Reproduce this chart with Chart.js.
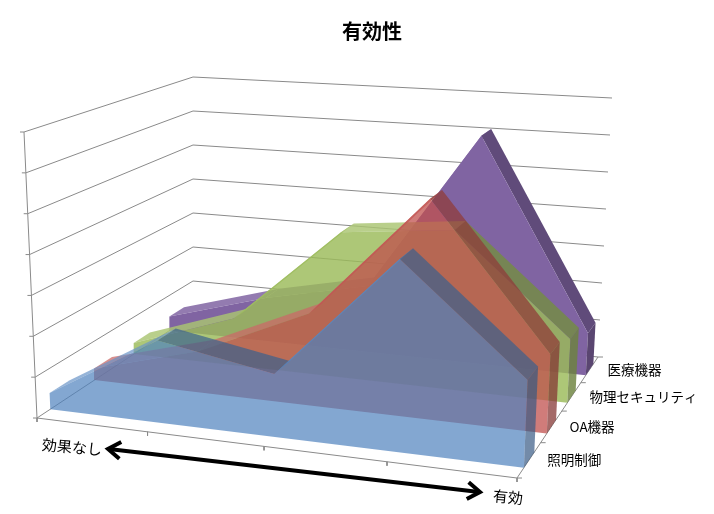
<!DOCTYPE html>
<html>
<head>
<meta charset="utf-8">
<script src="https://cdn.jsdelivr.net/npm/chart.js@4.4.1/dist/chart.umd.min.js"></script>
<style>
html, body { margin: 0; padding: 0; background: #fff; }
#wrap { width: 714px; height: 514px; position: relative; }
</style>
</head>
<body>
<div id="wrap"><canvas id="chart"></canvas></div>
<script>
// categories run from "no effect" to "effective"
const categories = ['1', '2', '3', '4', '5'];
const axisEnds = ['効果なし', '有効'];
const seriesNames = ['照明制御', 'OA機器', '物理セキュリティ', '医療機器'];

const lighting = [0.4, 2.0, 1.5, 4.5, 2.0];
const oaDevices = [0.3, 1.05, 2.3, 5.4, 1.9];
const security = [0.3, 1.25, 3.8, 4.1, 1.6];
const medical = [0.4, 1.2, 1.8, 6.1, 1.1];

const valueTicks = [0, 1, 2, 3, 4, 5, 6, 7];

const seriesValues = [lighting, oaDevices, security, medical];
const seriesColors = ['79,129,189', '192,80,77', '155,187,89', '128,100,162'];
const seriesAlpha = [0.7, 0.75, 0.82, 1];

// 3d box corners on screen (floor and roof)
const floor = { fl: [37, 418], fr: [517, 478], bl: [193, 315], br: [598, 357] };
const roof = { fl: [24, 132], fr: [530, 167], bl: [193, 77], br: [612, 98] };
const vMax = valueTicks[valueTicks.length - 1];
const slabHalf = 0.055;

function ease(t, k) {
    return t * k / (1 + (k - 1) * t);
}

function bilerp(c, u, w) {
    const fx = c.fl[0] + (c.fr[0] - c.fl[0]) * u;
    const fy = c.fl[1] + (c.fr[1] - c.fl[1]) * u;
    const bx = c.bl[0] + (c.br[0] - c.bl[0]) * u;
    const by = c.bl[1] + (c.br[1] - c.bl[1]) * u;
    return [fx + (bx - fx) * w, fy + (by - fy) * w];
}

function project(u, w, v) {
    const uu = ease(u, 0.8975);
    const ww = ease(w, 1.237);
    const b = bilerp(floor, uu, ww);
    const t = bilerp(roof, uu, ww);
    const s = v / vMax;
    return { x: b[0] + (t[0] - b[0]) * s, y: b[1] + (t[1] - b[1]) * s };
}

function shade(rgb, f, a) {
    const c = rgb.split(',').map(Number).map(n => {
        const m = f >= 0 ? n + (255 - n) * f : n * (1 + f);
        return Math.round(m);
    });
    return `rgba(${c.join(',')},${a})`;
}

const datasets = [];
const gap = { x: null, y: null };

function poly(points, color) {
    datasets.push({
        data: [...points, points[0]],
        backgroundColor: color,
        borderColor: 'rgba(0,0,0,0)',
        borderWidth: 0,
        fill: 'shape',
        pointRadius: 0,
        clip: false,
        order: -datasets.length
    });
}

function lines(points, color, width) {
    datasets.push({
        data: points,
        borderColor: color,
        borderWidth: width,
        fill: false,
        pointRadius: 0,
        clip: false,
        order: -datasets.length
    });
}

// walls: grid lines on left wall and back wall
const grid = [];
valueTicks.forEach(v => {
    grid.push(project(0, 0, v), project(0, 1, v), project(1, 1, v), gap);
    const p = project(0, 0, v);
    grid.push({ x: p.x - 4, y: p.y }, p, gap);
});
grid.push(project(0, 0, 0), project(0, 0, vMax), gap);
grid.push(project(0, 0, 0), project(1, 0, 0), project(1, 1, 0), gap);
categories.forEach((c, i) => {
    const p = project(i / (categories.length - 1), 0, 0);
    grid.push(p, { x: p.x, y: p.y + 4 }, gap);
});
for (let i = 0; i <= seriesNames.length; i++) {
    const p = project(1, i / seriesNames.length, 0);
    grid.push(p, { x: p.x + 5, y: p.y }, gap);
}
lines(grid, '#8a8a8a', 1);

// slabs, back to front
for (let s = seriesValues.length - 1; s >= 0; s--) {
    const vals = seriesValues[s];
    const rgb = seriesColors[s];
    const a = seriesAlpha[s];
    const wc = (s + 0.5) / seriesNames.length;
    const wf = wc - slabHalf;
    const wb = wc + slabHalf;
    const n = vals.length;
    const u = i => i / (n - 1);

    for (let i = 0; i < n - 1; i++) {
        const rising = vals[i + 1] > vals[i];
        poly([
            project(u(i), wf, vals[i]),
            project(u(i + 1), wf, vals[i + 1]),
            project(u(i + 1), wb, vals[i + 1]),
            project(u(i), wb, vals[i])
        ], shade(rgb, rising ? 0.15 : -0.25, a));
    }

    const front = [project(0, wf, 0)];
    vals.forEach((v, i) => front.push(project(u(i), wf, v)));
    front.push(project(1, wf, 0));
    poly(front, `rgba(${rgb},${a})`);

    poly([
        project(1, wf, 0),
        project(1, wf, vals[n - 1]),
        project(1, wb, vals[n - 1]),
        project(1, wb, 0)
    ], shade(rgb, -0.3, a));
}

const labelsPlugin = {
    id: 'labels3d',
    afterDraw(chart) {
        const ctx = chart.ctx;
        const xs = chart.scales.x;
        const ys = chart.scales.y;
        const px = p => [xs.getPixelForValue(p.x), ys.getPixelForValue(p.y)];
        ctx.save();
        ctx.fillStyle = '#000';
        ctx.strokeStyle = '#000';
        ctx.textBaseline = 'middle';

        ctx.font = '13.5px "Noto Sans CJK JP"';
        ctx.textAlign = 'left';
        seriesNames.forEach((name, i) => {
            const [x, y] = px(project(1, (i + 0.5) / seriesNames.length, 0));
            ctx.fillText(name, x + 18, y);
        });

        const [lx, ly] = px(project(0, 0, 0));
        const [rx, ry] = px(project(1, 0, 0));
        const x1 = lx + 71, y1 = ly + 31;
        const x2 = rx - 37, y2 = ry + 14;
        const ang = Math.atan2(y2 - y1, x2 - x1);

        ctx.font = '15px "Noto Sans CJK JP"';
        ctx.textAlign = 'center';
        [[axisEnds[0], lx + 35, ly + 29], [axisEnds[1], rx - 9, ry + 19]].forEach(([t, x, y]) => {
            ctx.save();
            ctx.translate(x, y);
            ctx.rotate(ang * 0.8);
            ctx.fillText(t, 0, 0);
            ctx.restore();
        });

        ctx.lineWidth = 4;
        ctx.lineJoin = 'miter';
        ctx.beginPath();
        ctx.moveTo(x1 + 3 * Math.cos(ang), y1 + 3 * Math.sin(ang));
        ctx.lineTo(x2 - 3 * Math.cos(ang), y2 - 3 * Math.sin(ang));
        ctx.stroke();
        const head = 15, spread = 0.6;
        [[x1, y1, ang], [x2, y2, ang + Math.PI]].forEach(([x, y, a]) => {
            ctx.beginPath();
            ctx.moveTo(x + head * Math.cos(a - spread), y + head * Math.sin(a - spread));
            ctx.lineTo(x, y);
            ctx.lineTo(x + head * Math.cos(a + spread), y + head * Math.sin(a + spread));
            ctx.stroke();
        });
        ctx.restore();
    }
};

new Chart(document.getElementById('chart'), {
    type: 'line',
    data: { datasets },
    options: {
        responsive: true,
        maintainAspectRatio: false,
        animation: false,
        events: [],
        layout: { padding: { left: 30, right: 0, top: 0, bottom: 0 } },
        elements: { line: { tension: 0 } },
        scales: {
            x: { type: 'linear', min: 30, max: 714, display: false },
            y: { type: 'linear', min: 60, max: 514, reverse: true, display: false }
        },
        plugins: {
            legend: { display: false },
            tooltip: { enabled: false },
            title: {
                display: true,
                text: '有効性',
                color: '#000',
                font: { family: '"Noto Sans CJK JP"', size: 20, weight: 'bold' },
                padding: { top: 19, bottom: 17 }
            }
        }
    },
    plugins: [labelsPlugin]
});
</script>
</body>
</html>
